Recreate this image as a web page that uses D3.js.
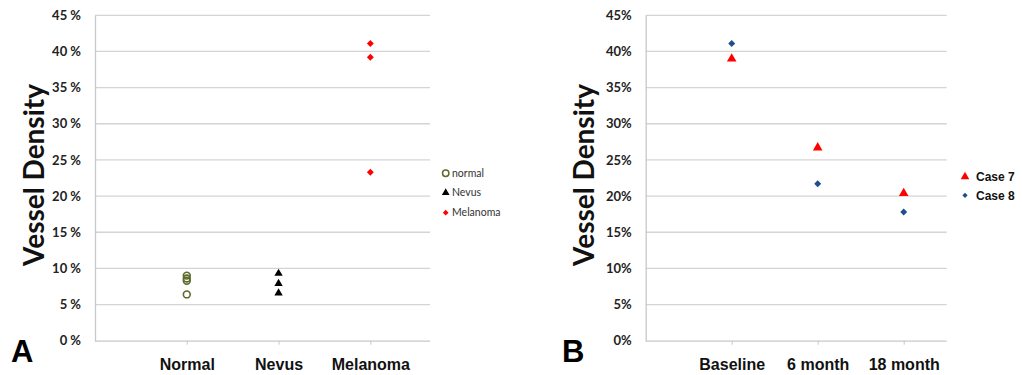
<!DOCTYPE html>
<html><head><meta charset="utf-8">
<script src="https://cdn.jsdelivr.net/npm/d3@7"></script>
<style>body{margin:0;background:#fff}svg{display:block}</style>
</head><body><svg id="c" width="1022" height="375"></svg>
<script>
// Panel A data
const catsA = ["Normal", "Nevus", "Melanoma"];
const normalVals = [9.0, 8.6, 8.3, 6.4];
const nevusVals = [9.3, 7.9, 6.6];
const melanomaVals = [41.1, 39.2, 23.3];
const legendA = ["normal", "Nevus", "Melanoma"];
// Panel B data
const catsB = ["Baseline", "6 month", "18 month"];
const case7 = [39.0, 26.7, 20.4];
const case8 = [41.1, 21.7, 17.8];
const legendB = ["Case 7", "Case 8"];
const yTicks = [0, 5, 10, 15, 20, 25, 30, 35, 40, 45];

const svg = d3.select("#c");
const plotTop = 15.3, plotBot = 340.7;
const y = d3.scaleLinear().domain([0, 45]).range([plotBot, plotTop]);

function panel(left, right, xMax, cats, tickFmt, titleX, letter, letterX) {
  const x = d3.scaleLinear().domain([0, xMax]).range([left, right]);
  const g = svg.append("g");
  g.selectAll("line.grid").data(yTicks.filter(d => d > 0)).join("line")
    .attr("x1", left).attr("x2", right)
    .attr("y1", d => y(d)).attr("y2", d => y(d))
    .attr("stroke", "#d4d4d4").attr("stroke-width", 1.3);
  const ya = g.append("g").attr("transform", `translate(${left},0)`)
    .call(d3.axisLeft(y).tickValues(yTicks).tickSize(0).tickPadding(14).tickFormat(tickFmt));
  ya.select(".domain").attr("stroke", "#c8c8c8").attr("stroke-width", 1.3);
  ya.selectAll("text").attr("font-family", "Lato, 'Open Sans', sans-serif")
    .attr("font-weight", "bold").attr("font-size", 13).attr("fill", "#222");
  const xa = g.append("g").attr("transform", `translate(0,${plotBot})`)
    .call(d3.axisBottom(x).tickValues([1, 2, 3]).tickSize(4).tickFormat((d) => cats[d - 1]).tickPadding(14));
  xa.select(".domain").attr("stroke", "#c8c8c8").attr("stroke-width", 1.3).attr("d", `M${left},0.5H${right}`);
  xa.selectAll("line").attr("stroke", "#c8c8c8");
  xa.selectAll("text").attr("font-family", "'Liberation Sans', Arial, sans-serif")
    .attr("font-weight", "bold").attr("font-size", 16).attr("fill", "#111");
  g.append("text").attr("transform", `translate(${titleX},${(plotTop + plotBot) / 2 - 3}) rotate(-90)`)
    .attr("text-anchor", "middle").attr("font-family", "Lato, 'Open Sans', sans-serif")
    .attr("font-weight", "bold").attr("font-size", 28).attr("fill", "#111")
    .text("Vessel Density");
  g.append("text").attr("x", letterX).attr("y", 362)
    .attr("font-family", "'Liberation Sans', Arial, sans-serif").attr("font-weight", "bold")
    .attr("font-size", 31).attr("fill", "#000").text(letter);
  return x;
}

const xA = panel(95, 430, 3.65, catsA, d => d + " %", 44, "A", 11);
const xB = panel(645.7, 946.7, 3.5, catsB, d => d + "%", 594, "B", 562);

const diamond = d3.symbol().type(d3.symbolSquare).size(24);
const tri = d3.symbol().type(d3.symbolTriangle).size(30);
const triB = d3.symbol().type(d3.symbolTriangle).size(40);

svg.append("g").selectAll("circle").data(normalVals).join("circle")
  .attr("cx", xA(1)).attr("cy", d => y(d)).attr("r", 3.4)
  .attr("fill", "none").attr("stroke", "#5b6b2a").attr("stroke-width", 1.6);
svg.append("g").selectAll("path").data(nevusVals).join("path")
  .attr("d", tri).attr("transform", d => `translate(${xA(2)},${y(d)})`).attr("fill", "#000");
svg.append("g").selectAll("path").data(melanomaVals).join("path")
  .attr("d", diamond).attr("transform", d => `translate(${xA(3)},${y(d)}) rotate(45)`).attr("fill", "#f00");

const lgA = svg.append("g");
const lgAy = [173.3, 192.7, 212.7];
lgA.append("circle").attr("cx", 445.7).attr("cy", lgAy[0]).attr("r", 3.2)
  .attr("fill", "none").attr("stroke", "#5b6b2a").attr("stroke-width", 1.5);
lgA.append("path").attr("d", d3.symbol().type(d3.symbolTriangle).size(26))
  .attr("transform", `translate(445.7,${lgAy[1]})`).attr("fill", "#000");
lgA.append("path").attr("d", d3.symbol().type(d3.symbolSquare).size(16))
  .attr("transform", `translate(445.7,${lgAy[2]}) rotate(45)`).attr("fill", "#f00");
lgA.selectAll("text").data(legendA).join("text")
  .attr("x", 452).attr("y", (d, i) => lgAy[i] + 3.5)
  .attr("font-family", "Lato, 'Open Sans', sans-serif").attr("font-size", 10.5).attr("fill", "#333")
  .text(d => d);

svg.append("g").selectAll("path").data(case7).join("path")
  .attr("d", triB).attr("transform", (d, i) => `translate(${xB(i + 1)},${y(d)})`).attr("fill", "#f00");
svg.append("g").selectAll("path").data(case8).join("path")
  .attr("d", diamond).attr("transform", (d, i) => `translate(${xB(i + 1)},${y(d)}) rotate(45)`).attr("fill", "#1f4e8c");

const lgB = svg.append("g");
const lgBy = [176.7, 195.3];
lgB.append("path").attr("d", d3.symbol().type(d3.symbolTriangle).size(32))
  .attr("transform", `translate(965,${lgBy[0]})`).attr("fill", "#f00");
lgB.append("path").attr("d", d3.symbol().type(d3.symbolSquare).size(14))
  .attr("transform", `translate(965,${lgBy[1]}) rotate(45)`).attr("fill", "#1f4e8c");
lgB.selectAll("text").data(legendB).join("text")
  .attr("x", 976).attr("y", (d, i) => lgBy[i] + 4.5)
  .attr("font-family", "'Liberation Sans', Arial, sans-serif").attr("font-weight", "bold")
  .attr("font-size", 12).attr("fill", "#111").text(d => d);
</script></body></html>
